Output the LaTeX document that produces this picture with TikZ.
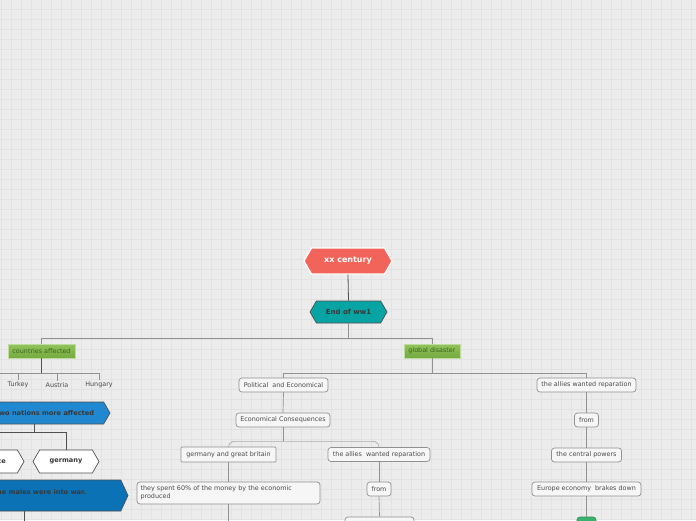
\documentclass[tikz,border=0pt]{standalone}
\usepackage{fontspec}
\setmainfont{DejaVu Sans}
\usetikzlibrary{shapes.symbols,positioning}
\definecolor{mmbg}{RGB}{236,236,236}
\definecolor{mmgrid}{RGB}{226,226,226}
\definecolor{mmcoral}{RGB}{242,100,90}
\definecolor{mmteal}{RGB}{8,163,163}
\definecolor{mmblue}{RGB}{32,136,208}
\definecolor{mmdeep}{RGB}{10,114,181}
\definecolor{mmgreenA}{RGB}{146,196,92}
\definecolor{mmgreenB}{RGB}{116,170,64}
\definecolor{mmgreenT}{RGB}{58,96,28}
\definecolor{mmmint}{RGB}{60,178,110}
\definecolor{mmline}{RGB}{145,145,145}
\definecolor{mmdark}{RGB}{80,80,80}
\definecolor{mmtext}{RGB}{75,75,75}
\tikzset{
  gridline/.style={draw=mmgrid,line width=0.6pt},
  boxfont/.style={font=\fontsize{6.4}{8}\selectfont},
  hexfont/.style={font=\bfseries\fontsize{6.6}{8}\selectfont},
  topic/.style={draw=mmline,fill=white!55!mmbg,rounded corners=3pt,line width=0.7pt,
    inner sep=1pt,minimum height=14pt,text=mmtext,boxfont},
  flatbox/.style={topic,rounded corners=1pt,minimum height=15pt},
  greenbox/.style={draw=mmgreenA!60!white,top color=mmgreenA,bottom color=mmgreenB,
    line width=0.6pt,inner sep=1pt,minimum height=14pt,text=mmgreenT,boxfont},
  leaf/.style={inner sep=1.5pt,text=mmtext,boxfont},
  hexa/.style={shape=signal,signal to=east and west,signal pointer angle=120,
    inner sep=1pt,draw=mmdark,line width=0.7pt,text=black!78,hexfont},
  link/.style={draw=mmline,line width=0.7pt},
  darklink/.style={draw=mmdark,line width=0.8pt},
}
\newcommand{\mtopic}[5][topic]{\node[#1,minimum width=#4pt] (#2) at (#3) {#5};}
\newcommand{\mhex}[6][hexa]{\node[#1,minimum width=#4pt,minimum height=#5pt] (#2) at (#3) {#6};}
\newcommand{\mlink}[2]{\draw[link] (#1.south) -- (#2.north);}

\begin{document}
\begin{tikzpicture}[x=1pt,y=-1pt]
  \useasboundingbox (0,0) rectangle (696,520);
  \clip (0,0) rectangle (696,520);
  \fill[mmbg] (0,0) rectangle (696,520);
  \foreach \gx in {1,11,...,691} \draw[gridline] (\gx,0) -- (\gx,520);
  \foreach \gy in {9,19,...,519} \draw[gridline] (0,\gy) -- (696,\gy);

  % root
  \mhex[hexa,fill=mmcoral,draw=white,line width=1.2pt,text=white,
    font=\bfseries\fontsize{8}{9}\selectfont]{xx}{348,261}{88}{26}{xx century}
  \mhex[hexa,fill=mmteal,font=\bfseries\fontsize{7}{8}\selectfont]{end}{348.5,312}{77}{22}{End of ww1}
  \draw[darklink] (xx.south) -- (end.north);

  % first level
  \mtopic[greenbox]{countries}{41.5,351}{67}{countries affected}
  \mtopic[greenbox]{global}{432,351}{56}{global disaster}
  \draw[link] (end.south) -- ++(0,15) coordinate (endfork);
  \draw[link] (endfork) -| (countries.north);
  \draw[link] (endfork) -| (global.north);

  % countries affected
  \node[leaf] (turkey) at (18,385) {Turkey};
  \node[leaf] (austria) at (57,385) {Austria};
  \node[leaf] (hungary) at (99,385) {Hungary};
  \coordinate (offleft) at (-20,379);
  \draw[darklink,line width=1.3pt] (countries.south) -- ++(0,15) coordinate (cfork);
  \draw[link] (cfork) -| (offleft);
  \foreach \cn in {turkey,austria,hungary}
    \draw[link] (cfork) -| (\cn.north);

  % two nations
  \mhex[hexa,fill=mmblue]{nations}{45,413}{130}{22}{two nations more affected}
  \mhex[hexa,fill=white]{france}{-6,461.5}{60}{23}{france}
  \mhex[hexa,fill=white]{germany}{66,461.5}{66}{23}{germany}
  \draw[darklink] ([xshift=-11pt]nations.south) -- ++(0,8) coordinate (nfork);
  \draw[darklink] (nfork) -| (france.north);
  \draw[darklink] (nfork) -| (germany.north);
  \mhex[hexa,fill=mmdeep,signal pointer angle=130,text depth=8pt]{males}{40,495.5}{176}{31}{the males were into war.}
  \draw[darklink] ([xshift=-16pt]males.south) -- ++(0,20) coordinate (mend);

  % global disaster
  \mtopic{pol}{283.5,385}{89}{Political~ and Economical}
  \mtopic{alliesA}{586.5,385}{99}{the allies wanted reparation}
  \draw[link] (global.south) -- ++(0,15) coordinate (gfork);
  \draw[link] (gfork) -| (pol.north);
  \draw[link] (gfork) -| (alliesA.north);

  \mtopic{econ}{283,420}{94}{Economical Consequences}
  \mlink{pol}{econ}
  \mtopic[flatbox]{gb}{228.5,454.5}{95}{germany and great britain}
  \mtopic{alliesB}{379,454.5}{102}{the allies~ wanted reparation}
  \draw[link] (econ.south) -- ++(0,14) coordinate (efork);
  \draw[link,draw=mmline!75,rounded corners=6pt] (gb.north) |- (efork) -| (alliesB.north);

  \node[topic,minimum width=183pt,minimum height=22pt,text width=176pt,align=left]
    (spent) at (228.5,493) {they spent 60\% of the money by the economic\\produced};
  \mlink{gb}{spent}
  \draw[link] (spent.south) -- ++(0,20) coordinate (send);

  \mtopic{fromB}{379,489}{24}{from}
  \mlink{alliesB}{fromB}
  \mtopic[topic,minimum height=22pt]{centralB}{379.5,528}{69}{the central powers}
  \mlink{fromB}{centralB}

  % right column
  \mtopic{fromA}{586.5,420}{24}{from}
  \mlink{alliesA}{fromA}
  \mtopic{centralA}{586.5,455}{70}{the central powers}
  \mlink{fromA}{centralA}
  \mtopic{europe}{586.5,489}{109}{Europe economy~ brakes down}
  \mlink{centralA}{europe}
  \node[topic,draw=mmmint!80!black,fill=mmmint,minimum width=19pt,minimum height=20pt]
    (mint) at (586.5,527) {};
  \mlink{europe}{mint}
\end{tikzpicture}
\end{document}
